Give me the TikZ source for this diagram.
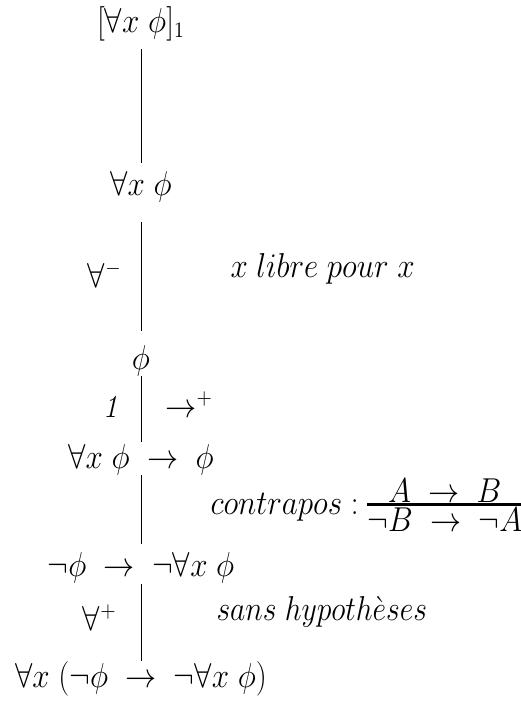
\documentclass[tikz,border=0pt]{standalone}
\usepackage{amsmath, amssymb}
\usetikzlibrary{positioning}

% narrower type, as in the drawing
\newcommand{\narrow}[1]{\scalebox{0.9}[1]{#1}}

\begin{document}
\begin{tikzpicture}[
        x=0.5pt, y=-0.5pt,
        font=\fontsize{16}{19}\selectfont,
        line width=0.5pt,
        formula/.style={anchor=base, inner sep=0pt},
        rulename/.style={anchor=base east, inner sep=0pt},
        remark/.style={anchor=base west, inner sep=0pt}
    ]
        \useasboundingbox (0,0) rectangle (520,702);

        \node[formula] (hyp) at (141,32)  {\narrow{$[\forall x\ \phi]_1$}};
        \node[formula] (all) at (141,195) {\narrow{$\forall x\ \phi$}};
        \node[formula] (phi) at (141,369) {\narrow{$\phi$}};
        \node[formula] (imp) at (141,468) {\narrow{$\forall x\ \phi\ \rightarrow\ \phi$}};
        \node[formula] (neg) at (141,576) {\narrow{$\neg\phi\ \rightarrow\ \neg\forall x\ \phi$}};
        \node[formula] (gen) at (141,687) {\narrow{$\forall x\ (\neg\phi\ \rightarrow\ \neg\forall x\ \phi)$}};

        \node[rulename] (elimAll)  at (122,287) {\narrow{$\forall^-$}};
        \node[remark]   (libre)    at (230,277) {\narrow{$x\ libre\ pour\ x$}};
        \node[rulename] (disch)    at (118,417) {\narrow{\textit{1}}};
        \node[remark]   (introImp) at (165,417) {\narrow{$\rightarrow^+$}};
        \node[remark]   (contra)   at (210,514) {\narrow{$contrapos :
            \vcenter{\offinterlineskip
                \setbox0=\hbox{$\neg B\ \rightarrow\ \neg A$}%
                \hbox to \wd0{\hss$A\ \rightarrow\ B$\hss}%
                \hrule height 1.4pt \kern 1pt
                \box0}$}};
        \node[rulename] (introAll) at (117,630) {\narrow{$\forall^+$}};
        \node[remark]   (sans)     at (216,620) {\scalebox{0.86}[1]{$sans\ hypoth\grave{e}ses$}};

        \draw[shorten <=3.7pt, shorten >=4pt] (hyp) -- (all);
        \draw[shorten <=10pt, shorten >=7pt] (all) -- (phi);
        \draw[shorten >=1pt] (phi) -- (imp);
        \draw[shorten >=4pt] (imp) -- (neg);
        \draw[shorten <=0.5pt] (neg) -- (gen);

    \end{tikzpicture}
\end{document}
